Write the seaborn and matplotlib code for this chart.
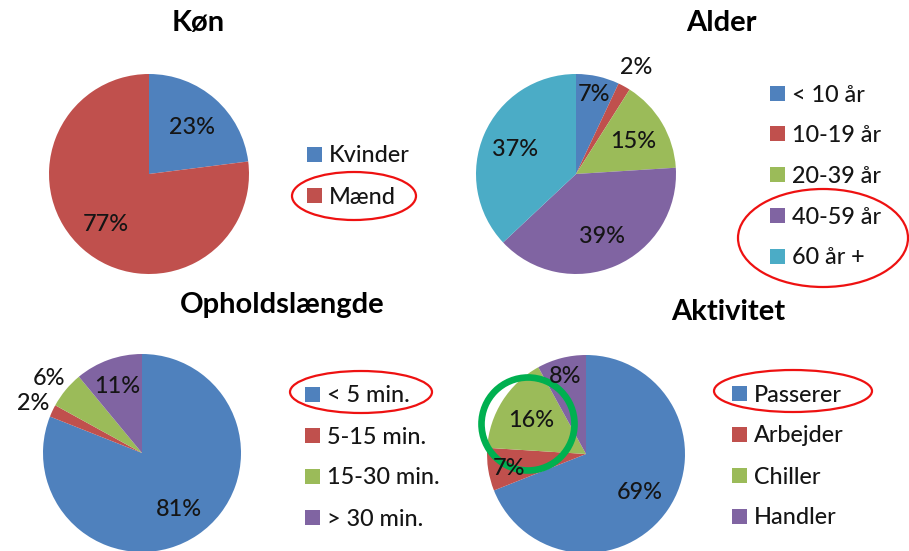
import numpy as np
import matplotlib
matplotlib.use("Agg")
import matplotlib.pyplot as plt
from matplotlib.patches import Ellipse, Rectangle
import seaborn as sns

# ---- data ----
kon_labels = ["Kvinder", "Mænd"]
kon_values = [23, 77]
alder_labels = ["< 10 år", "10-19 år", "20-39 år", "40-59 år", "60 år +"]
alder_values = [7, 2, 15, 39, 37]
ophold_labels = ["< 5 min.", "5-15 min.", "15-30 min.", "> 30 min."]
ophold_values = [81, 2, 6, 11]
aktivitet_labels = ["Passerer", "Arbejder", "Chiller", "Handler"]
aktivitet_values = [69, 7, 16, 8]

sns.set_theme(style="white")
plt.rcParams['font.family'] = ['Lato', 'DejaVu Sans']

W, H = 909, 551
fig = plt.figure(figsize=(W / 100, H / 100), dpi=100)
ax = fig.add_axes([0, 0, 1, 1])

palette = sns.color_palette(["#4F81BD", "#C0504D", "#9BBB59", "#8064A2", "#4BACC6"])
TXT = "#151515"
FS = 16.8
CAP = 8.5  # half cap height in px

panels = [
    dict(title="Køn", values=kon_values, labels=kon_labels, center=(149, 174), r=100,
         dists=[0.65, 0.65], title_xy=(198, 31), leg_x=307, leg_y0=154, leg_dy=41),
    dict(title="Alder", values=alder_values, labels=alder_labels, center=(576, 174), r=100,
         dists=[0.84, 1.24, 0.67, 0.66, 0.66], title_xy=(721, 31), leg_x=770, leg_y0=93, leg_dy=40.75),
    dict(title="Opholdslængde", values=ophold_values, labels=ophold_labels, center=(142, 453), r=99,
         dists=[0.66, 1.22, 1.22, 0.74], title_xy=(282, 313), leg_x=305, leg_y0=394, leg_dy=41),
    dict(title="Aktivitet", values=aktivitet_values, labels=aktivitet_labels, center=(586, 454), r=99,
         dists=[0.66, 0.79, 0.66, 0.83], title_xy=(728, 320), leg_x=732, leg_y0=393, leg_dy=41),
]

for p in panels:
    cx, cy = p["center"]
    cyd = H - cy
    wedges, _ = ax.pie(p["values"], colors=palette[:len(p["values"])], startangle=90,
                       counterclock=False, center=(cx, cyd), radius=p["r"],
                       wedgeprops=dict(linewidth=0), frame=True)
    total = sum(p["values"])
    for w, v, d in zip(wedges, p["values"], p["dists"]):
        ang = np.deg2rad((w.theta1 + w.theta2) / 2)
        tx = cx + d * p["r"] * np.cos(ang)
        ty = cyd + d * p["r"] * np.sin(ang)
        ax.text(tx, ty - CAP, f"{round(100 * v / total)}%", ha="center", va="baseline",
                fontsize=FS, color=TXT, fontweight="medium")
    tx, ty = p["title_xy"]
    ax.text(tx, H - ty, p["title"], ha="center", va="baseline", fontsize=21,
            fontweight="bold", color="black")
    for i, lab in enumerate(p["labels"]):
        yc = p["leg_y0"] + i * p["leg_dy"]
        ax.add_patch(Rectangle((p["leg_x"], H - yc - 7.5), 15, 15, facecolor=palette[i],
                               edgecolor="none"))
        ax.text(p["leg_x"] + 22, H - yc - CAP, lab, ha="left", va="baseline",
                fontsize=FS, color=TXT, fontweight="medium")

# highlight ellipses
red = "#EE1111"
for (ex, ey, ew, eh) in [(354, 196, 124, 48), (823, 238, 170, 98),
                          (361, 392, 142, 42), (793, 391, 158, 42)]:
    ax.add_patch(Ellipse((ex, H - ey), ew, eh, fill=False, edgecolor=red, linewidth=1.6))
ax.add_patch(Ellipse((528, H - 424), 93, 93, fill=False, edgecolor="#00B050", linewidth=4.8))

ax.set_xlim(0, W)
ax.set_ylim(0, H)
ax.set_aspect("equal", adjustable="box")
ax.axis("off")
fig.savefig("out.png", dpi=100, facecolor="white")
